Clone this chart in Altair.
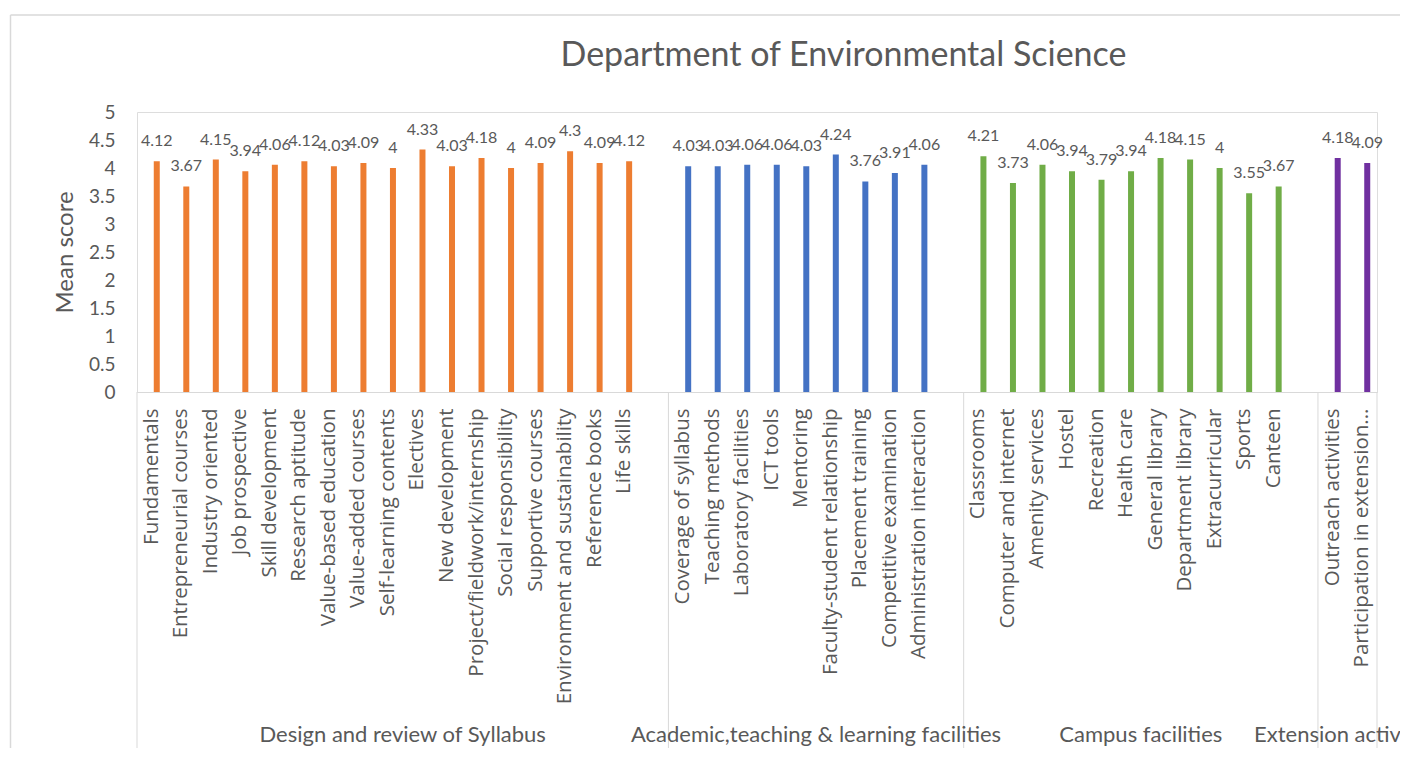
import altair as alt
import pandas as pd

chart_title = "Department of Environmental Science"
y_title = "Mean score"
y_ticks = [0, 0.5, 1, 1.5, 2, 2.5, 3, 3.5, 4, 4.5, 5]

group_names = [
    "Design and review of Syllabus",
    "Academic,teaching & learning facilities",
    "Campus facilities",
    "Extension activities",
]
group_colors = ["#ED7D31", "#4472C4", "#70AD47", "#7030A0"]

syllabus_items = [
    "Fundamentals", "Entrepreneurial courses", "Industry oriented", "Job prospective",
    "Skill development", "Research aptitude", "Value-based education", "Value-added courses",
    "Self-learning contents", "Electives", "New development", "Project/fieldwork/internship",
    "Social responsibility", "Supportive courses", "Environment and sustainability",
    "Reference books", "Life skills",
]
syllabus_scores = [4.12, 3.67, 4.15, 3.94, 4.06, 4.12, 4.03, 4.09, 4, 4.33, 4.03, 4.18, 4, 4.09, 4.3, 4.09, 4.12]

academic_items = [
    "Coverage of syllabus", "Teaching methods", "Laboratory facilities", "ICT tools",
    "Mentoring", "Faculty-student relationship", "Placement training",
    "Competitive examination", "Administration interaction",
]
academic_scores = [4.03, 4.03, 4.06, 4.06, 4.03, 4.24, 3.76, 3.91, 4.06]

campus_items = [
    "Classrooms", "Computer and internet", "Amenity services", "Hostel", "Recreation",
    "Health care", "General library", "Department library", "Extracurricular", "Sports", "Canteen",
]
campus_scores = [4.21, 3.73, 4.06, 3.94, 3.79, 3.94, 4.18, 4.15, 4, 3.55, 3.67]

extension_items = ["Outreach activities", "Participation in extension activities"]
extension_scores = [4.18, 4.09]

groups = [
    (group_names[0], syllabus_items, syllabus_scores),
    (group_names[1], academic_items, academic_scores),
    (group_names[2], campus_items, campus_scores),
    (group_names[3], extension_items, extension_scores),
]

# Build the category slots (one empty slot after each group except the last)
slots = []
bar_rows = []
group_rows = []
sep_rows = []
for gi, (gname, items, scores) in enumerate(groups):
    start = len(slots)
    for it, sc in zip(items, scores):
        slots.append(it)
        bar_rows.append({"cat": it, "score": sc, "group": gname, "label": f"{sc:g}"})
    if gi < len(groups) - 1:
        slots.append(" " * (gi + 1))
    n = len(slots) - start
    sep_rows.append({"cat": slots[start]})
    group_rows.append({"cat": slots[start + n // 2], "group": gname})

bars_df = pd.DataFrame(bar_rows)
groups_df = pd.DataFrame(group_rows)
seps_df = pd.DataFrame(sep_rows)
end_df = pd.DataFrame([{"cat": slots[-1]}])
title_df = pd.DataFrame([{"t": chart_title}])
one = pd.DataFrame({"k": [0]})

TXT = "#595959"
GRID = "#d9d9d9"
W, H = 1240, 280

xscale = alt.Scale(type="band", domain=slots, paddingInner=0, paddingOuter=0)
xaxis = alt.Axis(
    title=None, labelAngle=270, labelFont="Open Sans", labelFontSize=20.5, labelColor=TXT,
    ticks=False, labelPadding=16, domainColor=GRID, domainWidth=1, labelLimit=0,
    labelOverlap=False, labelBound=False,
    labelExpr="length(datum.label) > 30 ? substring(datum.label, 0, 26) + '...' : datum.label",
)
yscale = alt.Scale(domain=[0, 5], nice=False)
yaxis = alt.Axis(
    title=y_title, values=y_ticks, format="~g", domain=False, ticks=False, grid=False,
    labelFont="Lato", labelFontSize=19, labelColor=TXT, labelPadding=22,
    titleFont="Lato", titleFontSize=24, titleFontWeight="normal", titleColor=TXT, titlePadding=11,
)

bars = alt.Chart(bars_df).mark_bar(width=6, xOffset=5).encode(
    x=alt.X("cat:N", scale=xscale, axis=xaxis),
    y=alt.Y("score:Q", scale=yscale, axis=yaxis),
    color=alt.Color("group:N", scale=alt.Scale(domain=group_names, range=group_colors), legend=None),
)

values = alt.Chart(bars_df).mark_text(
    xOffset=5, dy=-15, baseline="alphabetic", font="Lato", fontSize=16, color=TXT
).encode(
    x=alt.X("cat:N", scale=xscale, axis=xaxis),
    y=alt.Y("score:Q", scale=yscale, axis=yaxis),
    text="label:N",
)

seps = alt.Chart(seps_df).mark_rule(color=GRID, strokeWidth=1).encode(
    x=alt.X("cat:N", scale=xscale, axis=xaxis, bandPosition=0),
    y=alt.value(H), y2=alt.value(H + 360),
)
end_sep = alt.Chart(end_df).mark_rule(color=GRID, strokeWidth=1).encode(
    x=alt.X("cat:N", scale=xscale, axis=xaxis, bandPosition=1),
    y=alt.value(H), y2=alt.value(H + 360),
)

group_text = alt.Chart(groups_df).mark_text(
    baseline="alphabetic", align="center", font="Lato", fontSize=22, color=TXT
).encode(
    x=alt.X("cat:N", scale=xscale, axis=xaxis, bandPosition=0),
    y=alt.value(H + 350),
    text="group:N",
)

title_text = alt.Chart(title_df).mark_text(
    baseline="alphabetic", align="center", font="Lato", fontSize=34, color=TXT
).encode(
    x=alt.value(706.5), y=alt.value(-46), text="t:N"
)

border_left = alt.Chart(one).mark_rule(color=GRID, strokeWidth=1.5).encode(
    x=alt.value(-126.5), y=alt.value(-97), y2=alt.value(H + 400)
)
border_top = alt.Chart(one).mark_rule(color=GRID, strokeWidth=1.5).encode(
    x=alt.value(-126.5), x2=alt.value(W + 100), y=alt.value(-97)
)

chart = alt.layer(
    bars, values, seps, end_sep, group_text, title_text, border_left, border_top
).properties(
    width=W,
    height=H,
    autosize=alt.AutoSizeParams(type="none"),
    padding={"left": 129, "top": 104, "right": 23, "bottom": 356},
).configure_view(strokeWidth=0).configure(background="white")

chart.save("out.html", embed_options={"renderer": "svg", "actions": False})
